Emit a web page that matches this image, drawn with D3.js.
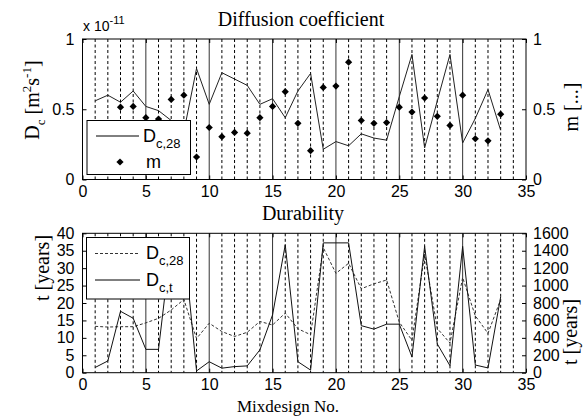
<!DOCTYPE html>
<html>
<head>
<meta charset="utf-8">
<script src="https://cdn.jsdelivr.net/npm/d3@7"></script>
<style>
body { margin: 0; background: #fff; }
text { fill: #000; }
</style>
</head>
<body>
<div id="chart"></div>
<script>
// mixdesign numbers 1..33
var mix = d3.range(1, 34);
// diffusion coefficient Dc,28 (x 1e-11 m2/s)
var dc28 = [0.56, 0.60, 0.55, 0.63, 0.52, 0.49, 0.42, 0.34, 0.79, 0.535, 0.76, 0.715, 0.67, 0.535, 0.575, 0.44, 0.63,
    0.755, 0.215, 0.27, 0.24, 0.325, 0.295, 0.28, 0.59, 0.89, 0.225, 0.56, 0.89, 0.26, 0.435, 0.64, 0.35];
// ageing factor m (right axis)
var mVals = [null, null, 0.515, 0.52, 0.44, 0.43, 0.57, 0.60, 0.16, 0.37, 0.305, 0.335, 0.33, 0.44, 0.52, 0.625, 0.40,
    0.205, 0.655, 0.665, 0.835, 0.42, 0.40, 0.405, 0.515, 0.48, 0.58, 0.45, 0.385, 0.60, 0.29, 0.275, 0.465];
// service life with Dc,28 (years, left axis)
var tDc28 = [13.3, 13.1, 13.2, 13.2, 14.3, 15.6, 18, 21, 9.8, 14.2, 11.8, 10.4, 11.6, 14.7, 13.7, 17.1, 12.6,
    10.9, 35.9, 28.5, 31.4, 24.1, 25.5, 26.6, 14.5, 9.3, 34, 12.7, 8.5, 27.3, 16.3, 11.3, 21];
// service life with Dc,t (years, right axis)
var tDct = [60, 135, 705, 625, 268, 268, 1500, 1500, 20, 126, 52, 70, 78, 262, 664, 1468, 126,
    30, 1490, 1490, 1490, 540, 500, 557, 557, 181, 1450, 330, 80, 1450, 88, 55, 870];

var xTicks = [0, 5, 10, 15, 20, 25, 30, 35];
var dcTicks = [0, 0.5, 1];
var mTicks = [0, 0.5, 1];
var tLeftTicks = [0, 5, 10, 15, 20, 25, 30, 35, 40];
var tRightTicks = [0, 200, 400, 600, 800, 1000, 1200, 1400, 1600];

var width = 583, height = 420;
var left = 82.5, right = 526;
var serif = "'Liberation Serif', 'Times New Roman', serif";
var sans = "'Liberation Sans', Arial, sans-serif";

var svg = d3.select("#chart").append("svg")
    .attr("width", width)
    .attr("height", height)
    .style("font-family", sans);

var x = d3.scaleLinear().domain([0, 35]).range([left, right]);
var plain = function(d) { return String(d); };

// draws one panel: frame, grid, axes; returns its group
function panel(top, bottom, yl, yr, lTicks, rTicks) {
    var g = svg.append("g");

    // vertical grid lines at each mixdesign
    d3.range(1, 35).forEach(function(i) {
        g.append("line")
            .attr("x1", x(i)).attr("x2", x(i))
            .attr("y1", top).attr("y2", bottom)
            .attr("stroke", i % 5 === 0 ? "#333" : "#000")
            .attr("stroke-width", 1)
            .attr("stroke-dasharray", i % 5 === 0 ? null : "3,2.5");
    });

    var ax = g.append("g").attr("transform", "translate(0," + bottom + ")")
        .call(d3.axisBottom(x).tickValues(xTicks).tickSizeInner(-4).tickSizeOuter(0).tickPadding(6).tickFormat(plain));
    var axTop = g.append("g").attr("transform", "translate(0," + top + ")")
        .call(d3.axisTop(x).tickValues(xTicks).tickSizeInner(-4).tickSizeOuter(0).tickFormat(""));
    var al = g.append("g").attr("transform", "translate(" + left + ",0)")
        .call(d3.axisLeft(yl).tickValues(lTicks).tickSizeInner(-4).tickSizeOuter(0).tickPadding(8).tickFormat(plain));
    var ar = g.append("g").attr("transform", "translate(" + right + ",0)")
        .call(d3.axisRight(yr).tickValues(rTicks).tickSizeInner(-4).tickSizeOuter(0).tickPadding(7).tickFormat(plain));

    [ax, axTop, al, ar].forEach(function(a) {
        a.select(".domain").remove();
        a.selectAll("line").attr("stroke", "#000");
        a.selectAll("text").style("font-size", "16px").style("font-family", sans);
    });

    g.append("rect")
        .attr("x", left).attr("y", top)
        .attr("width", right - left).attr("height", bottom - top)
        .attr("fill", "none").attr("stroke", "#000").attr("stroke-width", 1);
    return g;
}

// ---------- top panel ----------
var top1 = 39, bot1 = 179.5;
var yDc = d3.scaleLinear().domain([0, 1]).range([bot1, top1]);
var yM = d3.scaleLinear().domain([0, 1]).range([bot1, top1]);

var g1 = panel(top1, bot1, yDc, yM, dcTicks, mTicks);

var dcLine = d3.line()
    .x(function(d, i) { return x(mix[i]); })
    .y(function(d) { return yDc(d); });

g1.append("path")
    .datum(dc28)
    .attr("d", dcLine)
    .attr("fill", "none")
    .attr("stroke", "#222")
    .attr("stroke-width", 1);

// small filled diamond (square turned 45 degrees)
var diamond = "M0,-3.6L3.6,0L0,3.6L-3.6,0Z";
g1.selectAll(".m")
    .data(mix.filter(function(d, i) { return mVals[i] != null; }))
    .enter().append("path")
    .attr("class", "m")
    .attr("d", diamond)
    .attr("transform", function(d) { return "translate(" + x(d) + "," + yM(mVals[d - 1]) + ")"; })
    .attr("fill", "#000");

// legend top
var lg1 = svg.append("g");
lg1.append("rect").attr("x", 87).attr("y", 120.5).attr("width", 103.5).attr("height", 54)
    .attr("fill", "#fff").attr("stroke", "#000");
lg1.append("line").attr("x1", 96).attr("x2", 139).attr("y1", 136).attr("y2", 136)
    .attr("stroke", "#000");
var t1 = lg1.append("text").attr("x", 143).attr("y", 142).style("font-size", "18px");
t1.append("tspan").text("D");
t1.append("tspan").attr("dy", 6).style("font-size", "13px").text("c,28");
lg1.append("path").attr("d", diamond).attr("transform", "translate(120,162)").attr("fill", "#000");
lg1.append("text").attr("x", 146).attr("y", 168).style("font-size", "18px").text("m");

// titles and labels top
svg.append("text").attr("x", 301).attr("y", 26).attr("text-anchor", "middle")
    .style("font-family", serif).style("font-size", "20px")
    .text("Diffusion coefficient");

var ex = svg.append("text").attr("x", 83).attr("y", 31).style("font-size", "14px");
ex.append("tspan").text("x 10");
ex.append("tspan").attr("dy", -7).style("font-size", "11px").text("-11");

var yl1 = svg.append("text")
    .attr("transform", "translate(39,100) rotate(-90)")
    .attr("text-anchor", "middle")
    .style("font-family", serif).style("font-size", "20px");
yl1.append("tspan").text("D");
yl1.append("tspan").attr("dy", 6).style("font-size", "13px").text("c");
yl1.append("tspan").attr("dy", -6).text(" [m");
yl1.append("tspan").attr("dy", -8).style("font-size", "13px").text("2");
yl1.append("tspan").attr("dy", 8).text("s");
yl1.append("tspan").attr("dy", -8).style("font-size", "13px").text("-1");
yl1.append("tspan").attr("dy", 8).text("]");

svg.append("text")
    .attr("transform", "translate(578,107) rotate(-90)")
    .attr("text-anchor", "middle")
    .style("font-family", serif).style("font-size", "20px")
    .text("m [...]");

svg.append("text").attr("x", 303).attr("y", 220).attr("text-anchor", "middle")
    .style("font-family", serif).style("font-size", "20px")
    .text("Durability");

// ---------- bottom panel ----------
var top2 = 233.3, bot2 = 372.7;
var yTl = d3.scaleLinear().domain([0, 40]).range([bot2, top2]);
var yTr = d3.scaleLinear().domain([0, 1600]).range([bot2, top2]);

var g2 = panel(top2, bot2, yTl, yTr, tLeftTicks, tRightTicks);

var tLine28 = d3.line()
    .x(function(d, i) { return x(mix[i]); })
    .y(function(d) { return yTl(d); });
var tLineT = d3.line()
    .x(function(d, i) { return x(mix[i]); })
    .y(function(d) { return yTr(d); });

g2.append("path").datum(tDc28).attr("d", tLine28)
    .attr("fill", "none").attr("stroke", "#333").attr("stroke-width", 1)
    .attr("stroke-dasharray", "3,2");
g2.append("path").datum(tDct).attr("d", tLineT)
    .attr("fill", "none").attr("stroke", "#111").attr("stroke-width", 1);

// legend bottom
var lg2 = svg.append("g");
lg2.append("rect").attr("x", 86.5).attr("y", 237.5).attr("width", 103).attr("height", 61.5)
    .attr("fill", "#fff").attr("stroke", "#000");
lg2.append("line").attr("x1", 95).attr("x2", 140).attr("y1", 253.5).attr("y2", 253.5)
    .attr("stroke", "#333").attr("stroke-dasharray", "3,2");
lg2.append("line").attr("x1", 95).attr("x2", 140).attr("y1", 280).attr("y2", 280)
    .attr("stroke", "#000");
var t2 = lg2.append("text").attr("x", 146).attr("y", 259).style("font-size", "18px");
t2.append("tspan").text("D");
t2.append("tspan").attr("dy", 6).style("font-size", "13px").text("c,28");
var t3 = lg2.append("text").attr("x", 146).attr("y", 286).style("font-size", "18px");
t3.append("tspan").text("D");
t3.append("tspan").attr("dy", 6).style("font-size", "13px").text("c,t");

svg.append("text")
    .attr("transform", "translate(49,268) rotate(-90)")
    .attr("text-anchor", "middle")
    .style("font-family", serif).style("font-size", "20px")
    .text("t [years]");

svg.append("text")
    .attr("transform", "translate(577,332) rotate(-90)")
    .attr("text-anchor", "middle")
    .style("font-family", serif).style("font-size", "20px")
    .text("t [years]");

svg.append("text").attr("x", 288).attr("y", 412).attr("text-anchor", "middle")
    .style("font-family", serif).style("font-size", "17px")
    .text("Mixdesign No.");
</script>
</body>
</html>
